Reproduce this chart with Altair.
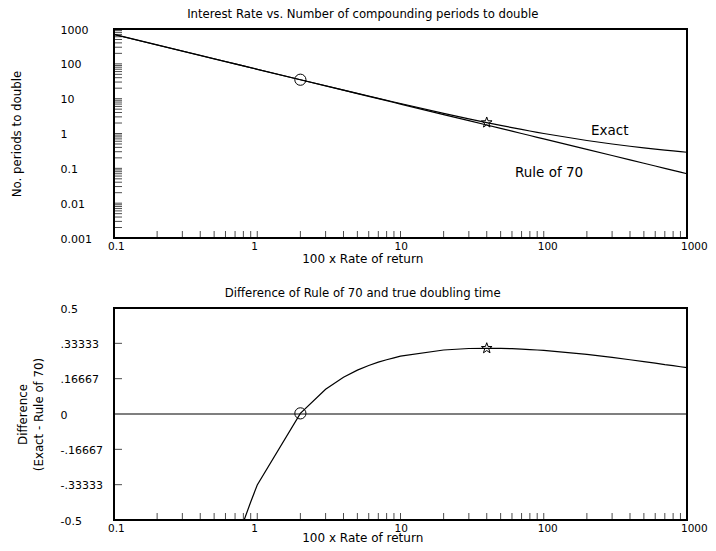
import altair as alt
import pandas as pd

# ---- data ----
rate = [0.1, 0.2, 0.3, 0.4, 0.5, 0.6, 0.7, 0.8, 0.9,
        1, 2, 3, 4, 5, 6, 7, 8, 9,
        10, 20, 30, 40, 50, 60, 70, 80, 90,
        100, 200, 300, 400, 500, 600, 700, 800, 900, 1000]
exact = [693.5, 346.9, 231.4, 173.6, 139.0, 115.9, 99.37, 86.99, 77.36,
         69.66, 35.00, 23.45, 17.67, 14.21, 11.90, 10.24, 9.006, 8.043,
         7.273, 3.802, 2.642, 2.060, 1.710, 1.475, 1.306, 1.179, 1.080,
         1.000, 0.6309, 0.5000, 0.4307, 0.3869, 0.3562, 0.3333, 0.3155, 0.3010, 0.2891]
rule70 = [700, 350, 233.3, 175, 140, 116.7, 100, 87.5, 77.78,
          70, 35, 23.33, 17.5, 14, 11.67, 10, 8.75, 7.778,
          7, 3.5, 2.333, 1.75, 1.4, 1.167, 1.0, 0.875, 0.7778,
          0.7, 0.35, 0.2333, 0.175, 0.14, 0.1167, 0.1, 0.0875, 0.0778, 0.07]
difference = [-6.51, -3.08, -1.93, -1.37, -1.02, -0.80, -0.63, -0.51, -0.415,
              -0.335, 0.003, 0.117, 0.173, 0.207, 0.229, 0.245, 0.256, 0.265,
              0.273, 0.302, 0.309, 0.310, 0.310, 0.308, 0.306, 0.304, 0.302,
              0.300, 0.281, 0.267, 0.256, 0.247, 0.240, 0.233, 0.228, 0.223, 0.219]

marker_x = [2, 40]
marker_top = [35.0, 2.06]
marker_diff = [0.003, 0.310]
marker_kind = ["circle", "star"]

label_text = ["Exact", "Rule of 70"]
label_x = [214, 63]
label_y = [1.18, 0.0734]

title_top = "Interest Rate vs. Number of compounding periods to double"
title_bot = "Difference of Rule of 70 and true doubling time"
x_title = "100 x Rate of return"
y_title_top = "No. periods to double"
y_title_bot = ["Difference", "(Exact - Rule of 70)"]
title_x = [5.45]

x_tick_labels = [0.1, 1, 10, 100, 1000]
x_tick_text = ["0.1", "1", "10", "100", "1000"]
top_y_labels = [0.001, 0.01, 0.1, 1, 10, 100, 1000]
bot_y_labels = [-0.5, -0.33333, -0.16667, 0, 0.16667, 0.33333, 0.5]
bot_y_text = ["-0.5", "-.33333", "-.16667", "0", ".16667", ".33333", "0.5"]

x_minor = [0.2, 0.3, 0.4, 0.5, 0.6, 0.7, 0.8, 0.9, 1,
           2, 3, 4, 5, 6, 7, 8, 9, 10,
           20, 30, 40, 50, 60, 70, 80, 90, 100,
           200, 300, 400, 500, 600, 700, 800, 900]
y_minor_top = [0.002, 0.003, 0.004, 0.005, 0.006, 0.007, 0.008, 0.009, 0.01,
               0.02, 0.03, 0.04, 0.05, 0.06, 0.07, 0.08, 0.09, 0.1,
               0.2, 0.3, 0.4, 0.5, 0.6, 0.7, 0.8, 0.9, 1,
               2, 3, 4, 5, 6, 7, 8, 9, 10,
               20, 30, 40, 50, 60, 70, 80, 90, 100,
               200, 300, 400, 500, 600, 700, 800, 900]
y_ticks_bot = [-0.33333, -0.16667, 0.16667, 0.33333]
zero_line = [0]

FONT = "DejaVu Sans"
W = 573
H = 491          # both panels in one view
TOP_RANGE = [209, 0]
BOT_RANGE = [491, 279]

STAR = ("M0,-1L0.235,-0.324L0.951,-0.309L0.38,0.124L0.588,0.809L0,0.4"
        "L-0.588,0.809L-0.38,0.124L-0.951,-0.309L-0.235,-0.324Z")

lines_df = pd.DataFrame({
    "rate": rate * 2,
    "value": exact + rule70,
    "series": ["Exact"] * len(rate) + ["Rule of 70"] * len(rate),
})
diff_df = pd.DataFrame({"rate": rate, "diff": difference})

XS = dict(type="log", domain=[0.1, 1000], nice=False)
YT = dict(type="log", domain=[0.001, 1000], nice=False, range=TOP_RANGE)
YB = dict(type="linear", domain=[-0.5, 0.5], nice=False, zero=False, range=BOT_RANGE)
SHAPE = alt.Shape("k:N", scale=alt.Scale(domain=["circle", "star"], range=["circle", STAR]), legend=None)


def X(f):
    return alt.X(f, scale=alt.Scale(**XS), axis=None)


def YTop(f, axis=None, title=None):
    if axis is None:
        return alt.Y(f, scale=alt.Scale(**YT), axis=None)
    return alt.Y(f, scale=alt.Scale(**YT), axis=axis, title=title)


def YBot(f, axis=None, title=None):
    if axis is None:
        return alt.Y(f, scale=alt.Scale(**YB), axis=None)
    return alt.Y(f, scale=alt.Scale(**YB), axis=axis, title=title)


bot_label_expr = " : ".join(
    f"datum.value == {v} ? '{t}'" for v, t in zip(bot_y_labels, bot_y_text)
) + " : ''"

# ---------- top panel ----------
top_lines = alt.Chart(lines_df).mark_line(color="black", strokeWidth=1.2).encode(
    x=X("rate:Q"),
    y=YTop("value:Q", title=y_title_top,
           axis=alt.Axis(orient="left", values=top_y_labels, format="~g", labelAlign="left",
                         labelPadding=54, labelBaseline="middle", labelOffset=1,
                         titleAngle=270, titleX=-98, titleY=104.5, titleFontSize=11.8,
                         titleBaseline="middle", titleAlign="center", labelFlush=False)),
    detail="series:N",
)
frame_top = alt.Chart(pd.DataFrame({"x1": [0.1], "x2": [1000], "y1": [0.001], "y2": [1000]})).mark_rect(
    fillOpacity=0, stroke="black", strokeWidth=2
).encode(x=X("x1:Q"), x2="x2:Q", y=YTop("y1:Q"), y2="y2:Q")
xt_top = alt.Chart(pd.DataFrame({"t": x_minor, "b": [0.001] * len(x_minor)})).mark_tick(
    color="black", orient="vertical", size=7, thickness=1, yOffset=-3.5
).encode(x=X("t:Q"), y=YTop("b:Q"))
yt_top = alt.Chart(pd.DataFrame({"t": y_minor_top, "b": [0.1] * len(y_minor_top)})).mark_tick(
    color="black", orient="horizontal", size=8, thickness=1, xOffset=4
).encode(y=YTop("t:Q"), x=X("b:Q"))
xlab_top = alt.Chart(pd.DataFrame({"t": x_tick_labels, "s": x_tick_text, "b": [0.001] * 5})).mark_text(
    align="left", baseline="middle", dx=-6, dy=9, font=FONT, fontSize=10.5, color="black"
).encode(x=X("t:Q"), y=YTop("b:Q"), text="s:N")
xtitle_top = alt.Chart(pd.DataFrame({"t": title_x, "s": [x_title], "b": [0.001]})).mark_text(
    align="center", baseline="middle", dy=21, font=FONT, fontSize=12, color="black"
).encode(x=X("t:Q"), y=YTop("b:Q"), text="s:N")
ttl_top = alt.Chart(pd.DataFrame({"t": title_x, "s": [title_top], "b": [1000]})).mark_text(
    align="center", baseline="middle", dy=-15.5, font=FONT, fontSize=11.7, color="black"
).encode(x=X("t:Q"), y=YTop("b:Q"), text="s:N")
marks_top = alt.Chart(pd.DataFrame({"x": marker_x, "y": marker_top, "k": marker_kind})).mark_point(
    size=125, color="black", strokeWidth=1, filled=False, opacity=1
).encode(x=X("x:Q"), y=YTop("y:Q"), shape=SHAPE)
labels = alt.Chart(pd.DataFrame({"x": label_x, "y": label_y, "t": label_text})).mark_text(
    align="left", baseline="middle", font=FONT, fontSize=13.5, color="black"
).encode(x=X("x:Q"), y=YTop("y:Q"), text="t:N")

# ---------- bottom panel ----------
bot_line = alt.Chart(diff_df).transform_filter("datum.rate >= 0.8").mark_line(
    color="black", strokeWidth=1.2, clip=True
).encode(
    x=X("rate:Q"),
    y=YBot("diff:Q", title=y_title_bot,
           axis=alt.Axis(orient="left", values=bot_y_labels, labelAlign="left", labelPadding=54,
                         labelBaseline="middle", labelOffset=1, labelExpr=bot_label_expr,
                         titleAngle=270, titleX=-92, titleY=385, titleLineHeight=16,
                         titleFontSize=11.8,
                         titleBaseline="middle", titleAlign="center", labelFlush=False)),
)
frame_bot = alt.Chart(pd.DataFrame({"x1": [0.1], "x2": [1000], "y1": [-0.5], "y2": [0.5]})).mark_rect(
    fillOpacity=0, stroke="black", strokeWidth=2
).encode(x=X("x1:Q"), x2="x2:Q", y=YBot("y1:Q"), y2="y2:Q")
zero = alt.Chart(pd.DataFrame({"z": zero_line})).mark_rule(color="black", strokeWidth=1.2).encode(
    y=YBot("z:Q"),
)
xt_bot = alt.Chart(pd.DataFrame({"t": x_minor, "b": [-0.5] * len(x_minor)})).mark_tick(
    color="black", orient="vertical", size=7, thickness=1, yOffset=-3.5
).encode(x=X("t:Q"), y=YBot("b:Q"))
yt_bot = alt.Chart(pd.DataFrame({"t": y_ticks_bot, "b": [0.1] * len(y_ticks_bot)})).mark_tick(
    color="black", orient="horizontal", size=8, thickness=1, xOffset=4
).encode(y=YBot("t:Q"), x=X("b:Q"))
xlab_bot = alt.Chart(pd.DataFrame({"t": x_tick_labels, "s": x_tick_text, "b": [-0.5] * 5})).mark_text(
    align="left", baseline="middle", dx=-6, dy=9, font=FONT, fontSize=10.5, color="black"
).encode(x=X("t:Q"), y=YBot("b:Q"), text="s:N")
xtitle_bot = alt.Chart(pd.DataFrame({"t": title_x, "s": [x_title], "b": [-0.5]})).mark_text(
    align="center", baseline="middle", dy=18, font=FONT, fontSize=12, color="black"
).encode(x=X("t:Q"), y=YBot("b:Q"), text="s:N")
ttl_bot = alt.Chart(pd.DataFrame({"t": title_x, "s": [title_bot], "b": [0.5]})).mark_text(
    align="center", baseline="middle", dy=-15, font=FONT, fontSize=11.7, color="black"
).encode(x=X("t:Q"), y=YBot("b:Q"), text="s:N")
marks_bot = alt.Chart(pd.DataFrame({"x": marker_x, "y": marker_diff, "k": marker_kind})).mark_point(
    size=125, color="black", strokeWidth=1, filled=False, opacity=1
).encode(x=X("x:Q"), y=YBot("y:Q"), shape=SHAPE)

chart = alt.layer(
    top_lines, bot_line,
    frame_top, xt_top, yt_top, xlab_top, xtitle_top, ttl_top, marks_top, labels,
    frame_bot, zero, xt_bot, yt_bot, xlab_bot, xtitle_bot, ttl_bot, marks_bot,
).resolve_scale(y="independent").properties(
    width=W, height=H,
    autosize=alt.AutoSizeParams(type="none"),
    padding={"left": 106, "top": 21, "right": 21, "bottom": 23},
    background="white",
).configure_view(
    strokeWidth=0
).configure_axis(
    grid=False, domain=False, ticks=False,
    labelFont=FONT, labelFontSize=11, labelColor="black",
    titleFont=FONT, titleFontSize=11.8, titleFontWeight="normal", titleColor="black",
)

chart.save("out.html", embed_options={"renderer": "svg", "actions": False})
